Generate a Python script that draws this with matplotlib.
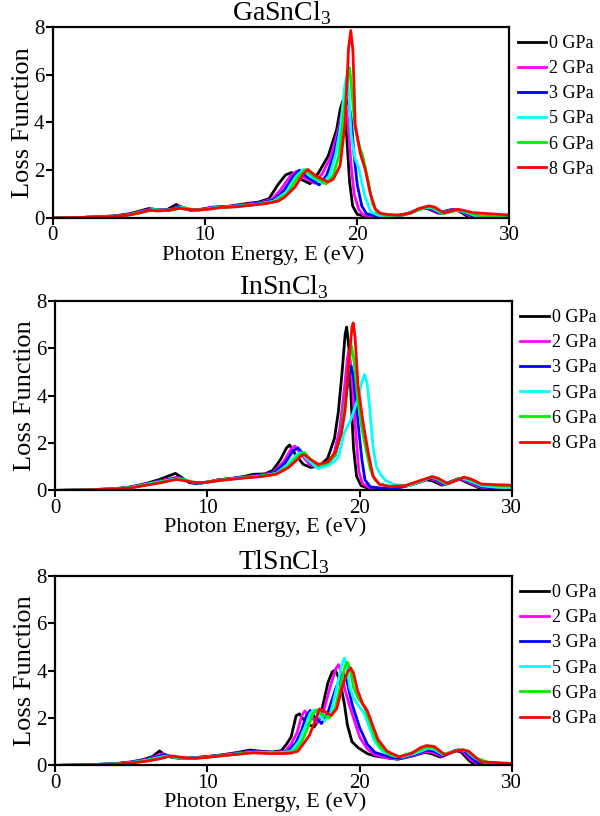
import numpy as np
import matplotlib
matplotlib.use("Agg")
from matplotlib import pyplot as plt

plt.rcParams['font.family'] = ['Liberation Serif', 'DejaVu Serif']
plt.rcParams['mathtext.fontset'] = 'custom'
plt.rcParams['mathtext.rm'] = 'Liberation Serif'

pressures = ['0 GPa', '2 GPa', '3 GPa', '5 GPa', '6 GPa', '8 GPa']
colors = ['#000000', '#ff00ff', '#0000ff', '#00ffff', '#00ee00', '#ff0000']
titles = ['GaSnCl$_3$', 'InSnCl$_3$', 'TlSnCl$_3$']

# (photon energy eV, loss function)
# GaSnCl3
ga_0 = [(0,0),(2,0.02),(4,0.08),(5,0.17),(5.8,0.3),(6.3,0.39),(6.9,0.34),(7.5,0.34),(8.1,0.56),(8.5,0.42),(9.0,0.32),(9.6,0.34),(10.5,0.45),(11.5,0.48),(12.5,0.58),(13.5,0.66),(14.2,0.8),(14.8,1.4),(15.3,1.8),(15.7,1.9),(16.3,1.62),(16.9,1.43),(17.45,1.88),(18.1,2.6),(18.65,3.7),(18.9,4.6),(19.05,4.9),(19.2,4.6),(19.35,3.0),(19.5,1.5),(19.7,0.5),(20.0,0.15),(20.5,0.07),(21.5,0.05),(22.5,0.08),(23.5,0.2),(24.3,0.42),(24.6,0.4),(25.3,0.2),(26.2,0.35),(26.7,0.28),(27.2,0.08),(27.8,0.0),(30,0.0)]
ga_2 = [(0,0),(2,0.02),(4,0.07),(5,0.15),(6,0.3),(6.5,0.37),(7,0.33),(7.6,0.33),(8.3,0.48),(8.7,0.4),(9.2,0.32),(10,0.38),(10.7,0.45),(11.5,0.47),(12.5,0.55),(13.5,0.62),(14.4,0.78),(15.0,1.2),(15.6,1.75),(16.0,1.95),(16.5,1.7),(17.2,1.45),(17.7,1.85),(18.3,2.6),(18.8,3.8),(19.1,4.7),(19.25,4.75),(19.4,4.0),(19.6,2.2),(19.8,1.0),(20.1,0.35),(20.4,0.12),(21,0.06),(22,0.06),(23,0.12),(24.3,0.42),(24.7,0.42),(25.4,0.2),(26.3,0.35),(26.8,0.28),(27.4,0.08),(28,0.01),(30,0.0)]
ga_3 = [(0,0),(2,0.02),(4,0.07),(5,0.14),(6,0.28),(6.6,0.36),(7.1,0.32),(7.7,0.33),(8.4,0.47),(8.8,0.38),(9.3,0.32),(10,0.37),(10.8,0.45),(11.6,0.47),(12.5,0.53),(13.5,0.6),(14.5,0.75),(15.2,1.15),(15.8,1.75),(16.2,2.0),(16.7,1.72),(17.5,1.38),(18.0,1.8),(18.5,2.7),(18.9,3.9),(19.2,4.7),(19.4,4.95),(19.6,4.2),(19.8,2.6),(20.0,1.4),(20.3,0.5),(20.6,0.18),(21.2,0.08),(22,0.07),(23,0.12),(24.4,0.42),(24.8,0.42),(25.5,0.18),(26.4,0.34),(26.9,0.28),(27.5,0.1),(28.2,0.02),(30,0.0)]
ga_5 = [(0,0),(2,0.02),(4,0.06),(5,0.13),(6,0.27),(6.6,0.35),(7.1,0.32),(7.8,0.33),(8.5,0.45),(8.9,0.37),(9.4,0.32),(10,0.36),(10.8,0.44),(11.6,0.46),(12.5,0.52),(13.5,0.58),(14.5,0.7),(15.3,1.05),(16.0,1.75),(16.45,2.02),(16.9,1.75),(17.75,1.45),(18.2,1.8),(18.6,2.7),(18.95,4.0),(19.15,5.4),(19.3,5.95),(19.45,5.2),(19.6,3.5),(19.85,2.5),(20.1,2.1),(20.5,0.9),(20.9,0.25),(21.4,0.1),(22,0.08),(23,0.12),(24.5,0.44),(24.9,0.42),(25.6,0.18),(26.5,0.33),(27,0.27),(27.7,0.1),(28.5,0.03),(30,0.01)]
ga_6 = [(0,0),(2,0.02),(4,0.06),(5,0.12),(6,0.25),(6.7,0.33),(7.2,0.31),(7.9,0.33),(8.6,0.44),(9,0.37),(9.5,0.32),(10,0.35),(10.9,0.43),(11.7,0.46),(12.5,0.5),(13.5,0.56),(14.5,0.66),(15.4,1.0),(16.1,1.7),(16.6,2.02),(17.1,1.75),(17.95,1.42),(18.4,1.75),(18.8,2.6),(19.1,4.2),(19.35,5.8),(19.5,6.3),(19.65,5.3),(19.85,3.8),(20.1,3.1),(20.4,2.5),(20.7,1.6),(21.0,0.6),(21.3,0.22),(21.8,0.12),(22.5,0.1),(23.2,0.14),(24.6,0.47),(25,0.44),(25.7,0.18),(26.6,0.33),(27.1,0.27),(27.8,0.12),(28.8,0.06),(30,0.04)]
ga_8 = [(0,0),(2,0.02),(4,0.06),(5,0.12),(5.8,0.22),(6.3,0.32),(6.9,0.29),(7.6,0.32),(8.3,0.4),(8.8,0.36),(9.5,0.33),(10.2,0.36),(11,0.43),(12,0.46),(13,0.53),(14,0.6),(14.8,0.7),(15.24,0.87),(15.9,1.28),(16.45,1.83),(16.75,2.03),(17.3,1.75),(18.1,1.5),(18.44,1.63),(18.88,2.2),(19.21,4.0),(19.43,7.1),(19.58,7.85),(19.72,7.0),(19.87,3.9),(20.2,2.7),(20.53,2.02),(20.87,1.0),(21.19,0.37),(21.5,0.2),(22,0.14),(22.8,0.12),(23.5,0.2),(24.0,0.38),(24.7,0.5),(25.1,0.45),(25.7,0.2),(26.6,0.36),(27.1,0.3),(27.6,0.22),(28.5,0.18),(30,0.12)]

# InSnCl3
in_0 = [(0,0),(2,0.02),(4,0.08),(5,0.15),(6,0.3),(6.8,0.45),(7.4,0.6),(7.9,0.72),(8.3,0.55),(8.8,0.33),(9.3,0.28),(10,0.35),(10.7,0.45),(11.5,0.5),(12.5,0.6),(13,0.68),(13.8,0.7),(14.3,0.85),(14.8,1.3),(15.2,1.8),(15.4,1.92),(15.8,1.5),(16.3,1.1),(16.8,0.97),(17.4,1.05),(17.9,1.36),(18.35,2.2),(18.6,3.3),(18.85,5.0),(19.05,6.6),(19.15,6.9),(19.3,6.0),(19.45,3.8),(19.6,1.8),(19.8,0.6),(20.1,0.2),(20.6,0.08),(21.5,0.06),(22.5,0.1),(23.5,0.25),(24.4,0.45),(24.8,0.4),(25.4,0.22),(26.5,0.5),(27,0.35),(27.8,0.12),(28.8,0.05),(30,0.04)]
in_2 = [(0,0),(2,0.02),(4,0.07),(5,0.14),(6,0.28),(7,0.42),(7.6,0.5),(8.0,0.55),(8.4,0.48),(8.9,0.35),(9.4,0.3),(10,0.35),(10.8,0.45),(11.6,0.5),(12.5,0.57),(13.5,0.65),(14.3,0.75),(15.0,1.2),(15.5,1.75),(15.75,1.88),(16.2,1.5),(16.7,1.1),(17.2,0.98),(17.8,1.12),(18.3,1.5),(18.7,2.6),(19.0,4.3),(19.2,5.6),(19.3,5.9),(19.45,5.2),(19.6,3.8),(19.75,2.4),(19.95,0.8),(20.2,0.28),(20.7,0.1),(21.5,0.08),(22.5,0.1),(23.5,0.25),(24.5,0.5),(24.9,0.45),(25.5,0.24),(26.6,0.5),(27.1,0.38),(27.8,0.15),(28.8,0.08),(30,0.06)]
in_3 = [(0,0),(2,0.02),(4,0.07),(5,0.14),(6,0.27),(7,0.4),(7.6,0.48),(8.0,0.53),(8.4,0.47),(8.9,0.35),(9.4,0.3),(10,0.35),(10.8,0.44),(11.6,0.5),(12.5,0.56),(13.5,0.63),(14.4,0.75),(15.1,1.15),(15.6,1.65),(15.95,1.8),(16.4,1.45),(16.9,1.1),(17.3,0.98),(17.9,1.12),(18.4,1.5),(18.8,2.5),(19.1,3.9),(19.3,4.9),(19.45,5.24),(19.6,4.8),(19.8,3.5),(20.0,2.2),(20.15,1.3),(20.35,0.45),(20.7,0.15),(21.5,0.09),(22.5,0.12),(23.5,0.28),(24.6,0.52),(25,0.47),(25.6,0.25),(26.7,0.52),(27.2,0.4),(27.9,0.18),(28.8,0.1),(30,0.08)]
in_5 = [(0,0),(2,0.02),(4,0.07),(5,0.13),(6,0.26),(7,0.38),(7.7,0.47),(8.1,0.5),(8.5,0.45),(9,0.35),(9.5,0.31),(10,0.35),(10.8,0.43),(11.6,0.49),(12.5,0.55),(13.5,0.61),(14.5,0.72),(15.2,1.05),(15.8,1.48),(16.15,1.6),(16.6,1.3),(17.25,0.92),(17.9,1.05),(18.3,1.2),(18.6,1.4),(19.0,2.45),(19.4,2.95),(19.9,3.9),(20.15,4.6),(20.33,4.9),(20.5,4.5),(20.66,3.5),(20.88,1.85),(21.1,1.0),(21.4,0.65),(21.7,0.42),(22.3,0.24),(23.2,0.2),(24.1,0.4),(24.7,0.56),(25.1,0.48),(25.7,0.26),(26.7,0.52),(27.2,0.42),(28,0.2),(29,0.13),(30,0.1)]
in_6 = [(0,0),(2,0.02),(4,0.06),(5,0.12),(6,0.24),(7,0.36),(7.7,0.45),(8.1,0.48),(8.5,0.44),(9,0.36),(9.5,0.32),(10,0.35),(10.8,0.43),(11.6,0.48),(12.5,0.54),(13.5,0.6),(14.5,0.7),(15.3,1.0),(16.0,1.48),(16.37,1.6),(16.8,1.3),(17.3,1.05),(17.9,1.15),(18.4,1.5),(18.8,2.5),(19.1,4.0),(19.3,5.4),(19.47,6.12),(19.65,5.4),(19.85,4.0),(20.1,2.8),(20.4,1.8),(20.7,0.9),(21.0,0.45),(21.3,0.28),(22,0.18),(23,0.2),(24,0.4),(24.7,0.58),(25.1,0.5),(25.7,0.27),(26.8,0.55),(27.3,0.45),(28,0.25),(29,0.2),(30,0.18)]
in_8 = [(0,0),(2,0.02),(4,0.06),(5,0.11),(6,0.22),(7,0.33),(7.6,0.42),(8.0,0.46),(8.4,0.42),(9,0.35),(9.5,0.33),(10,0.35),(10.8,0.42),(11.6,0.47),(12.5,0.53),(13.5,0.58),(14.5,0.68),(15.3,0.95),(15.9,1.3),(16.2,1.48),(16.4,1.5),(16.8,1.3),(17.3,1.1),(17.9,1.2),(18.4,1.6),(18.8,2.4),(19.05,3.4),(19.3,5.5),(19.5,6.9),(19.58,7.08),(19.7,6.5),(19.9,4.4),(20.22,2.9),(20.55,1.65),(20.88,0.6),(21.3,0.25),(22,0.16),(23,0.2),(24,0.42),(24.8,0.58),(25.2,0.5),(25.8,0.28),(26.9,0.56),(27.4,0.46),(28,0.27),(29,0.24),(30,0.22)]

# TlSnCl3
tl_0 = [(0,0),(2,0.02),(4,0.08),(5,0.15),(5.8,0.25),(6.4,0.38),(6.85,0.61),(7.2,0.45),(7.7,0.33),(8.3,0.3),(9,0.32),(10,0.38),(11,0.45),(12,0.55),(12.8,0.65),(13.5,0.6),(14.3,0.57),(14.85,0.62),(15.2,0.9),(15.5,1.2),(15.83,2.1),(16.05,2.18),(16.3,1.95),(16.6,1.75),(17.0,1.62),(17.4,2.0),(17.92,3.5),(18.2,3.95),(18.4,4.03),(18.7,3.6),(19.0,2.6),(19.2,1.7),(19.5,1.0),(19.9,0.75),(20.5,0.5),(21,0.4),(22,0.3),(22.5,0.26),(23.5,0.4),(24.3,0.55),(24.7,0.5),(25.3,0.35),(26.3,0.64),(26.7,0.55),(27.2,0.2),(27.6,0.03),(30,0.0)]
tl_2 = [(0,0),(2,0.02),(4,0.07),(5,0.14),(6,0.25),(6.6,0.38),(7.05,0.5),(7.4,0.42),(7.9,0.33),(8.5,0.3),(9.2,0.32),(10,0.37),(11,0.44),(12,0.52),(12.9,0.6),(13.6,0.57),(14.5,0.55),(15.1,0.6),(15.5,0.9),(15.9,1.4),(16.2,2.1),(16.4,2.3),(16.7,2.1),(17.2,1.8),(17.6,2.2),(18.1,3.4),(18.45,4.1),(18.62,4.26),(18.8,3.9),(19.0,3.3),(19.3,2.6),(19.6,2.0),(20.0,1.2),(20.5,0.7),(21,0.45),(22,0.3),(22.6,0.28),(23.5,0.42),(24.4,0.6),(24.8,0.55),(25.4,0.38),(26.4,0.65),(26.8,0.58),(27.3,0.25),(27.8,0.04),(30,0.0)]
tl_3 = [(0,0),(2,0.02),(4,0.07),(5,0.13),(6,0.23),(6.8,0.38),(7.2,0.45),(7.6,0.38),(8.1,0.32),(8.7,0.3),(9.3,0.32),(10,0.36),(11,0.43),(12,0.5),(12.9,0.58),(13.7,0.56),(14.6,0.54),(15.3,0.6),(15.8,0.95),(16.2,1.5),(16.5,2.1),(16.75,2.32),(17.05,2.05),(17.5,1.77),(17.9,2.2),(18.4,3.2),(18.75,3.75),(18.95,3.85),(19.15,3.6),(19.5,2.6),(20.0,1.6),(20.5,0.9),(21,0.55),(22,0.35),(22.7,0.3),(23.5,0.45),(24.4,0.65),(24.9,0.6),(25.5,0.4),(26.5,0.66),(26.9,0.6),(27.4,0.28),(27.9,0.05),(30,0.0)]
tl_5 = [(0,0),(2,0.02),(4,0.06),(5,0.12),(6,0.22),(7,0.36),(7.4,0.4),(7.8,0.35),(8.3,0.31),(8.9,0.3),(9.5,0.32),(10,0.35),(11,0.42),(12,0.49),(13,0.56),(13.8,0.55),(14.7,0.53),(15.5,0.6),(16.0,1.0),(16.4,1.6),(16.75,2.2),(17.0,2.35),(17.3,2.15),(17.7,1.88),(18.1,2.2),(18.5,3.3),(18.85,4.3),(19.0,4.54),(19.15,4.2),(19.35,3.3),(19.6,2.85),(19.9,2.55),(20.3,2.2),(20.7,1.5),(21,1.0),(21.5,0.6),(22.2,0.4),(22.8,0.35),(23.6,0.5),(24.5,0.72),(24.9,0.68),(25.5,0.45),(26.6,0.66),(27,0.62),(27.6,0.3),(28.3,0.08),(30,0.03)]
tl_6 = [(0,0),(2,0.02),(4,0.06),(5,0.11),(6,0.2),(7,0.32),(7.5,0.38),(7.9,0.34),(8.4,0.3),(9,0.3),(9.6,0.32),(10,0.35),(11,0.42),(12,0.48),(13,0.55),(14,0.53),(15,0.52),(15.7,0.6),(16.2,1.0),(16.6,1.6),(16.95,2.2),(17.2,2.35),(17.55,2.15),(18.0,2.0),(18.4,2.4),(18.75,3.4),(19.05,4.2),(19.2,4.36),(19.4,4.0),(19.6,3.3),(19.9,2.85),(20.3,2.5),(20.7,1.8),(21.0,1.2),(21.4,0.75),(22,0.45),(22.6,0.37),(23.5,0.55),(24.5,0.78),(24.9,0.74),(25.5,0.48),(26.7,0.66),(27.1,0.62),(27.7,0.3),(28.5,0.12),(30,0.05)]
tl_8 = [(0,0),(2,0.02),(4,0.05),(5,0.1),(6,0.18),(6.8,0.27),(7.3,0.35),(7.7,0.4),(8.1,0.36),(8.6,0.31),(9.2,0.3),(10,0.34),(11,0.41),(12,0.47),(13,0.53),(14,0.5),(15,0.5),(15.5,0.52),(15.94,0.6),(16.3,0.9),(16.71,1.28),(17.15,2.0),(17.37,2.39),(17.7,2.28),(18.14,2.11),(18.5,2.4),(18.85,3.3),(19.2,3.95),(19.41,4.12),(19.6,3.9),(19.85,3.2),(20.2,2.6),(20.5,2.32),(20.8,1.8),(21.2,1.1),(21.8,0.6),(22.6,0.36),(23.4,0.5),(24.0,0.75),(24.4,0.84),(24.9,0.8),(25.6,0.45),(26.3,0.6),(26.8,0.66),(27.2,0.58),(27.6,0.35),(28,0.15),(29,0.12),(30,0.08)]

panels = [[ga_0, ga_2, ga_3, ga_5, ga_6, ga_8],
          [in_0, in_2, in_3, in_5, in_6, in_8],
          [tl_0, tl_2, tl_3, tl_5, tl_6, tl_8]]

fig = plt.figure(figsize=(6, 8.16), dpi=100)
# [left, bottom, width, height]
boxes = [[0.088, 0.733, 0.761, 0.234],
         [0.092, 0.399, 0.761, 0.232],
         [0.092, 0.062, 0.761, 0.232]]

for box, curves, title in zip(boxes, panels, titles):
    ax = fig.add_axes(box)
    for c, col, lab in zip(curves, colors, pressures):
        e, l = np.array(c).T
        ax.plot(e, l, color=col, lw=2.0, label=lab)
    ax.set_xlim(0, 30)
    ax.set_ylim(0, 8)
    ax.set_xticks([0, 10, 20, 30])
    ax.set_yticks([0, 2, 4, 6, 8])
    ax.tick_params(labelsize=15, width=1.5, length=5, direction='out', pad=1)
    for s in ax.spines.values():
        s.set_linewidth(1.6)
    ax.set_title(title, fontsize=20, pad=1)
    ax.set_xlabel('Photon Energy, E (eV)', fontsize=16, labelpad=0)
    ax.xaxis.label.set_x(0.46)
    ax.set_ylabel('Loss Function', fontsize=19, labelpad=0)
    ax.legend(loc='upper left', bbox_to_anchor=(1.0, 1.0), frameon=False,
              fontsize=13, handlelength=1.6, handletextpad=0.15,
              labelspacing=0.45, borderaxespad=0.25, borderpad=0.2)

fig.savefig('out.png', dpi=100)
